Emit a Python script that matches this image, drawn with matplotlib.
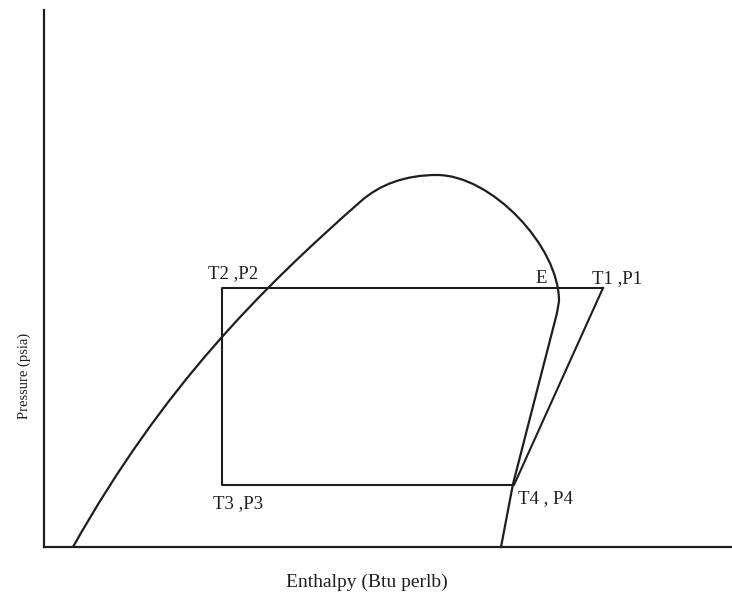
import matplotlib.pyplot as plt
from matplotlib.path import Path
from matplotlib.patches import PathPatch

# Saturation dome (enthalpy, pressure) in arbitrary chart units.
# Anchors are joined by cubic Bezier segments; each segment has two handles.
dome_anchor_h = [29, 316, 393, 515]
dome_anchor_p = [0, 345, 372, 246]
dome_handle_h = [(119, 216), (336, 362), (447, 515)]
dome_handle_p = [(160, 257), (363, 372), (372, 301)]
# straight liquid-side tail below the rounded cap
dome_tail_h = [513, 469, 457]
dome_tail_p = [234, 63, 0]

# Refrigeration cycle: T1 -> T2 -> T3 -> T4 -> T1
cycle_h = [559, 178, 178, 470, 559]
cycle_p = [259, 259, 62, 62, 259]

labels = ["T1 ,P1", "T2 ,P2", "T3 ,P3", "T4 , P4", "E"]
label_h = [548, 164, 169, 474, 491]
label_p = [264, 269, 39, 44, 264]

ink = "#1e1e1e"
serif = ["Liberation Serif", "DejaVu Serif"]

fig = plt.figure(figsize=(7.32, 5.97), dpi=100)
ax = fig.add_axes([44 / 732, 50 / 597, 688 / 732, 537 / 597])
ax.set_xlim(0, 688)
ax.set_ylim(0, 537)

verts = [(dome_anchor_h[0], dome_anchor_p[0])]
codes = [Path.MOVETO]
for i in range(len(dome_handle_h)):
    verts += [(dome_handle_h[i][0], dome_handle_p[i][0]),
              (dome_handle_h[i][1], dome_handle_p[i][1]),
              (dome_anchor_h[i + 1], dome_anchor_p[i + 1])]
    codes += [Path.CURVE4] * 3
for h, p in zip(dome_tail_h, dome_tail_p):
    verts.append((h, p))
    codes.append(Path.LINETO)
ax.add_patch(PathPatch(Path(verts, codes), facecolor="none", edgecolor=ink,
                       lw=1.6, joinstyle="round"))

ax.plot(cycle_h, cycle_p, color=ink, lw=1.5)

for txt, h, p in zip(labels, label_h, label_p):
    ax.text(h, p, txt, fontsize=13.5, family=serif, color=ink,
            ha="left", va="baseline")

ax.text(323, -40, "Enthalpy (Btu perlb)", fontsize=14, family=serif,
        color=ink, ha="center", va="baseline", clip_on=False)
ax.text(-20, 171, "Pressure (psia)", fontsize=10.5, family=serif,
        color=ink, ha="center", va="center", rotation=90, clip_on=False)

for side in ("top", "right"):
    ax.spines[side].set_visible(False)
for side in ("left", "bottom"):
    ax.spines[side].set_linewidth(1.6)
    ax.spines[side].set_color(ink)
ax.set_xticks([])
ax.set_yticks([])

fig.savefig("out.png", dpi=100)
